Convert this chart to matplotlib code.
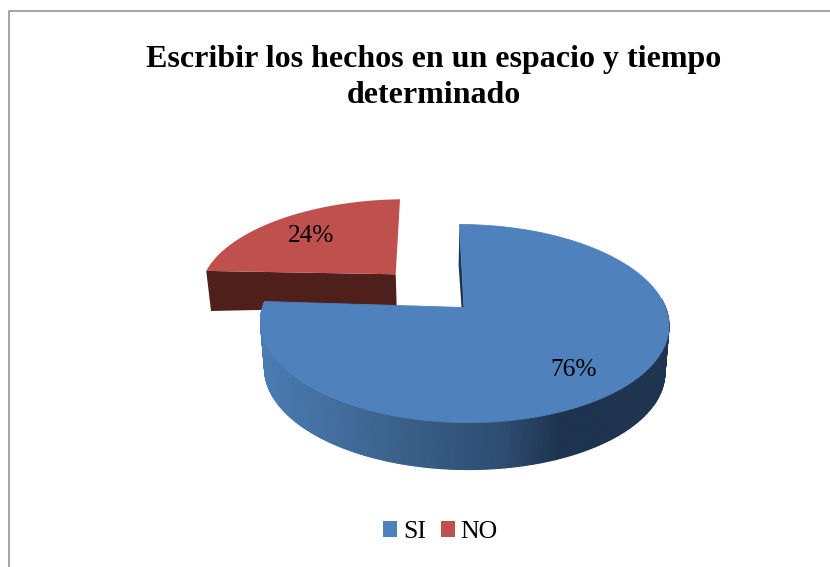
import numpy as np
import matplotlib
matplotlib.use('Agg')
import matplotlib.pyplot as plt
from matplotlib.collections import PolyCollection
from matplotlib.colors import LinearSegmentedColormap
from matplotlib.patches import Patch, Polygon

title = 'Escribir los hechos en un espacio y tiempo\ndeterminado'
labels = ['SI', 'NO']
values = [76, 24]
colors = ['#4f81bd', '#c0504d']

plt.rcParams['font.family'] = ['Liberation Serif', 'DejaVu Serif']

# the picture is worked out in pixels, y going down
fig = plt.figure(figsize=(8.3, 5.67), dpi=100)
ax = fig.add_axes([0, 0, 1, 1])
ax.set_xlim(0, 830)
ax.set_ylim(567, 0)
ax.axis('off')


def rim(theta, cx, cy, a, b, k, skew, tilt=0):
    # circle seen in perspective, theta clockwise from 12 o'clock
    u = np.sin(theta)
    w = np.cos(theta)
    x = cx + b * u / (1 + k * w) + skew * w
    y = cy - a * w / (1 + k * w) + tilt * u
    return x, y


stops = np.cumsum([0] + values) / sum(values) * 2 * np.pi
blue_t = np.linspace(stops[0], stops[1], 300)
red_t = np.linspace(stops[1], stops[2], 120)

# frame, only left and top are in the crop
ax.plot([8.5, 8.5, 830], [567, 10.5, 10.5], color='#8c8c8c', lw=1.1)

# NO slice: dark front wall, then top
rx, ry = rim(red_t, 395.7, 274.3, 87, 192, 0.16, 4.3, tilt=-2)
ax.add_patch(Polygon([(rx[0], ry[0]), (395.7, 274.3), (396.7, 307), (211, 311)],
                     color='#4f1f1c', lw=0))
ax.add_patch(Polygon(np.r_[[[395.7, 274.3]], np.c_[rx, ry]], color=colors[1], lw=0))

# SI slice: wall with a shading that goes dark to the right
bx, by = rim(blue_t, 464, 307.5, 96.4, 201.5, 0.162, -4.5)
lx = 464 + (bx - 464) * 0.98
ly = by + 47
# only the front of the rim shows
front = [i for i in range(len(bx) - 1) if np.cos(blue_t[i]) < 0.1]
quads = [[(bx[i], by[i]), (bx[i + 1], by[i + 1]), (lx[i + 1], ly[i + 1]), (lx[i], ly[i])]
         for i in front]
shade = LinearSegmentedColormap.from_list('side', [(0, '#4a7bb2'), (0.35, '#3a6089'),
                                                   (0.6, '#2d4c70'), (0.74, '#1e334f'),
                                                   (1, '#1f344f')])
pos = (bx[front] - 262) / (668 - 262)
ax.add_collection(PolyCollection(quads, facecolors=shade(pos), edgecolors=shade(pos),
                                 linewidths=0.8))

ax.add_patch(Polygon([(459.5, 224), (458.6, 265), (461.5, 307.5), (464, 307.5)],
                     color='#1f344f', lw=0))
ax.add_patch(Polygon(np.r_[[[464, 307.5]], np.c_[bx, by]], color=colors[0], lw=0.6))

# percent labels
ax.text(311.5, 235.5, f'{values[1]}%', fontsize=18.3, ha='center', va='center', color='black')
ax.text(574, 370.5, f'{values[0]}%', fontsize=18.3, ha='center', va='center', color='black')

ax.text(433.5, 77.5, title, fontsize=23, fontweight='bold', ha='center', va='center',
        linespacing=1.33, color='black')

handles = [Patch(color=c, lw=0) for c in colors]
ax.legend(handles, labels, loc='center', bbox_to_anchor=(440.5 / 830, 1 - 532 / 567), ncol=2,
          frameon=False, fontsize=18.5, handlelength=0.54, handleheight=0.54,
          handletextpad=0.23, columnspacing=0.58, borderpad=0)

plt.savefig('out.png', dpi=100)
